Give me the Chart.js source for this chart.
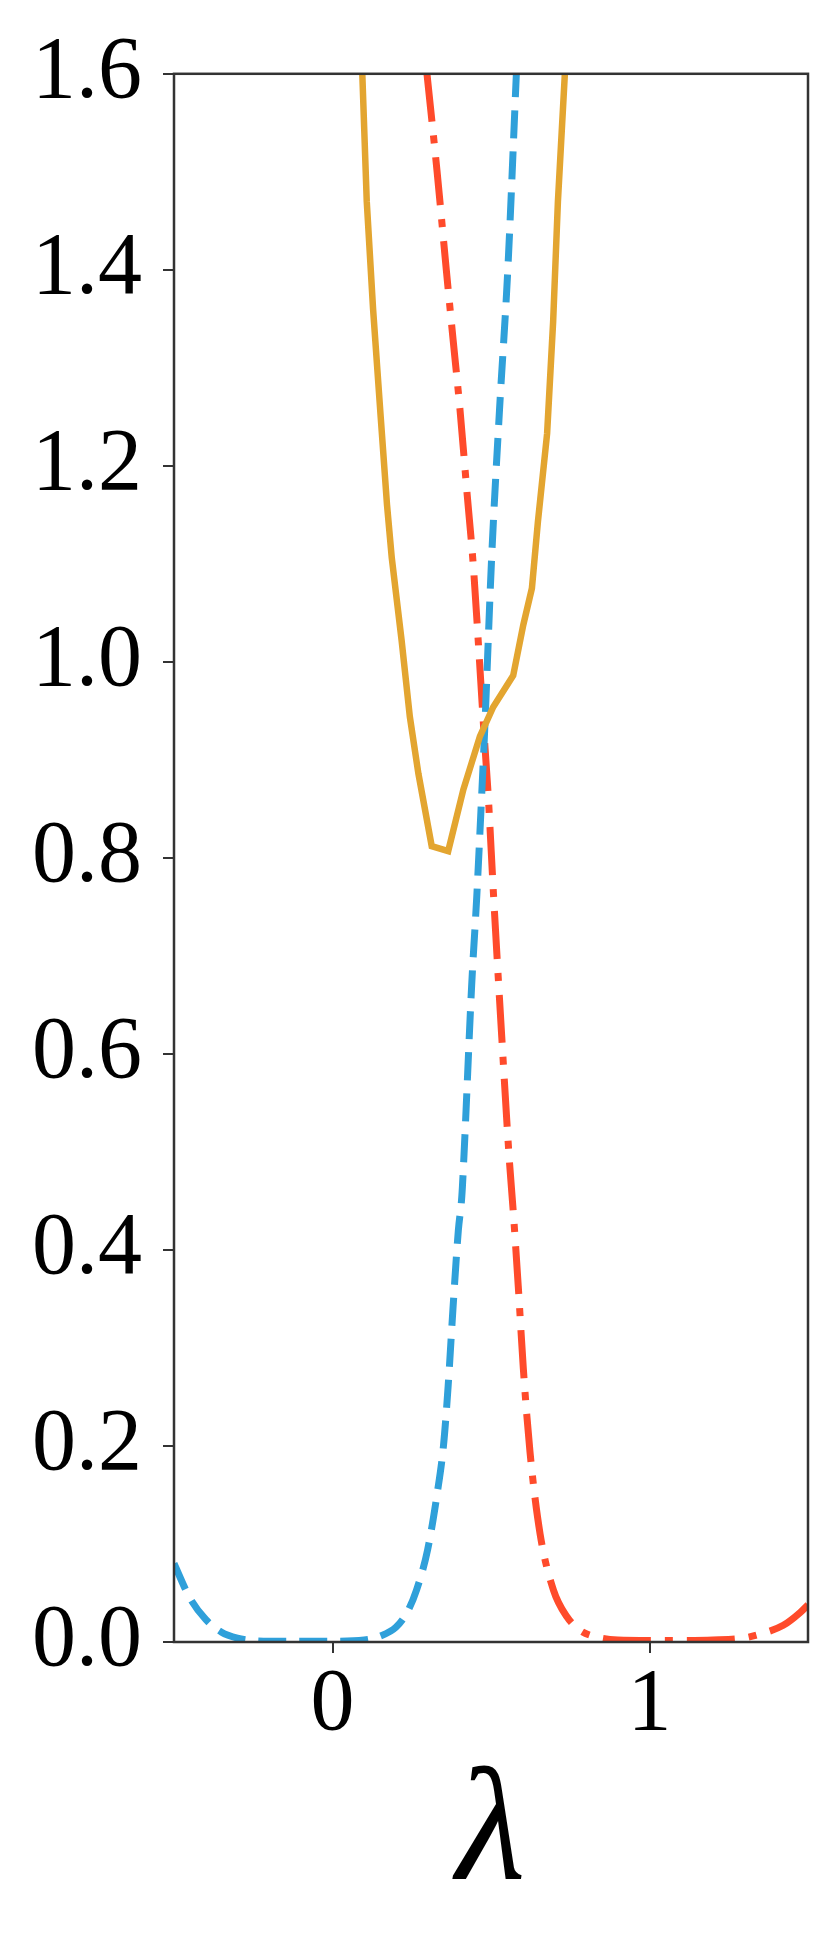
<!DOCTYPE html>
<html>
<head>
<meta charset="utf-8">
<script src="https://cdn.jsdelivr.net/npm/chart.js@4.4.1/dist/chart.umd.min.js"></script>
<style>
  html, body { margin: 0; padding: 0; background: #ffffff; }
  #wrap { width: 830px; height: 1947px; }
</style>
</head>
<body>
<div id="wrap"><canvas id="c" width="830" height="1947"></canvas></div>
<script>
// ---- data ----
const xTicks = [0, 1];
const yTicks = [0, 0.2, 0.4, 0.6, 0.8, 1.0, 1.2, 1.4, 1.6];
const xAxisTitle = 'λ';

// solid orange curve
const orangeX = [0.094, 0.108, 0.128, 0.152, 0.172, 0.187, 0.218, 0.244, 0.271, 0.313, 0.365, 0.413, 0.465, 0.507, 0.570, 0.602, 0.629, 0.648, 0.677, 0.696, 0.711, 0.733];
const orangeY = [1.60, 1.47, 1.36, 1.25, 1.16, 1.106, 1.022, 0.944, 0.886, 0.812, 0.807, 0.870, 0.924, 0.954, 0.986, 1.038, 1.075, 1.143, 1.233, 1.347, 1.469, 1.60];

// dashed blue curve
const blueX = [-0.50, -0.45, -0.40, -0.35, -0.30, -0.25, -0.20, -0.10, 0.00, 0.10, 0.15, 0.20, 0.235, 0.265, 0.30, 0.33, 0.35, 0.365, 0.38, 0.397, 0.408, 0.415, 0.439, 0.455, 0.47, 0.48, 0.502, 0.527, 0.553, 0.58];
const blueY = [0.080, 0.045, 0.023, 0.010, 0.004, 0.0015, 0.0008, 0.0008, 0.0008, 0.002, 0.006, 0.015, 0.030, 0.053, 0.094, 0.151, 0.200, 0.262, 0.340, 0.420, 0.455, 0.498, 0.670, 0.760, 0.860, 0.930, 1.106, 1.258, 1.40, 1.60];

// dash-dot red curve
const redX = [0.298, 0.33, 0.359, 0.38, 0.402, 0.425, 0.444, 0.46, 0.476, 0.491, 0.508, 0.534, 0.558, 0.570, 0.586, 0.602, 0.623, 0.655, 0.697, 0.739, 0.781, 0.833, 0.90, 1.00, 1.10, 1.20, 1.296, 1.359, 1.422, 1.475, 1.50];
const redY = [1.60, 1.50, 1.40, 1.33, 1.258, 1.17, 1.099, 1.02, 0.937, 0.865, 0.762, 0.617, 0.491, 0.440, 0.363, 0.279, 0.194, 0.110, 0.053, 0.026, 0.012, 0.005, 0.002, 0.0015, 0.0015, 0.002, 0.004, 0.009, 0.017, 0.030, 0.038];

const xMin = -0.5, xMax = 1.5, yMin = 0, yMax = 1.6;

const toPts = (xs, ys) => xs.map((x, i) => ({ x: x, y: ys[i] }));

const framePlugin = {
  id: 'frame',
  afterDatasetsDraw(chart) {
    const a = chart.chartArea;
    const ctx = chart.ctx;
    ctx.save();
    ctx.strokeStyle = '#333333';
    ctx.lineWidth = 2.5;
    ctx.strokeRect(a.left, a.top, a.right - a.left, a.bottom - a.top);
    ctx.restore();
  }
};

const serif = '"Liberation Serif", "Times New Roman", Times, serif';
const tickFont = { family: serif, size: 88 };

new Chart(document.getElementById('c'), {
  type: 'line',
  data: {
    datasets: [
      {
        data: toPts(orangeX, orangeY),
        borderColor: '#E3A530',
        borderWidth: 6.5,
        borderDash: [],
        pointRadius: 0,
        tension: 0,
        fill: false,
        clip: 0
      },
      {
        data: toPts(blueX, blueY),
        borderColor: '#2FA0DA',
        borderWidth: 7,
        borderDash: [28, 13],
        borderCapStyle: 'butt',
        pointRadius: 0,
        cubicInterpolationMode: 'monotone',
        fill: false,
        clip: 0
      },
      {
        data: toPts(redX, redY),
        borderColor: '#FF4B2B',
        borderWidth: 7,
        borderDash: [48, 14, 8, 14],
        borderCapStyle: 'butt',
        pointRadius: 0,
        cubicInterpolationMode: 'monotone',
        fill: false,
        clip: 0
      }
    ]
  },
  options: {
    responsive: false,
    animation: false,
    devicePixelRatio: 1,
    layout: { padding: { top: 63, right: 22, bottom: 0, left: 0 } },
    plugins: { legend: { display: false }, tooltip: { enabled: false } },
    scales: {
      x: {
        type: 'linear',
        min: xMin,
        max: xMax,
        afterBuildTicks: (s) => { s.ticks = xTicks.map(v => ({ value: v })); },
        afterFit: (s) => { s.height = 305; },
        border: { display: false },
        grid: { display: true, drawOnChartArea: false, drawTicks: true, tickLength: 11, color: '#333333', lineWidth: 2 },
        ticks: {
          font: tickFont,
          color: '#000000',
          padding: 0,
          maxRotation: 0,
          autoSkip: false,
          callback: (v) => String(v)
        },
        title: {
          display: true,
          text: xAxisTitle,
          color: '#000000',
          font: { family: serif, size: 160, style: 'italic' },
          padding: { top: 0, bottom: 14 }
        }
      },
      y: {
        type: 'linear',
        min: yMin,
        max: yMax,
        afterBuildTicks: (s) => { s.ticks = yTicks.map(v => ({ value: v })); },
        afterFit: (s) => { s.width = 174; },
        border: { display: false },
        grid: { display: true, drawOnChartArea: false, drawTicks: true, tickLength: 11, color: '#333333', lineWidth: 2 },
        ticks: {
          font: tickFont,
          color: '#000000',
          padding: 21,
          autoSkip: false,
          callback: (v) => Number(v).toFixed(1)
        }
      }
    }
  },
  plugins: [framePlugin]
});
</script>
</body>
</html>
